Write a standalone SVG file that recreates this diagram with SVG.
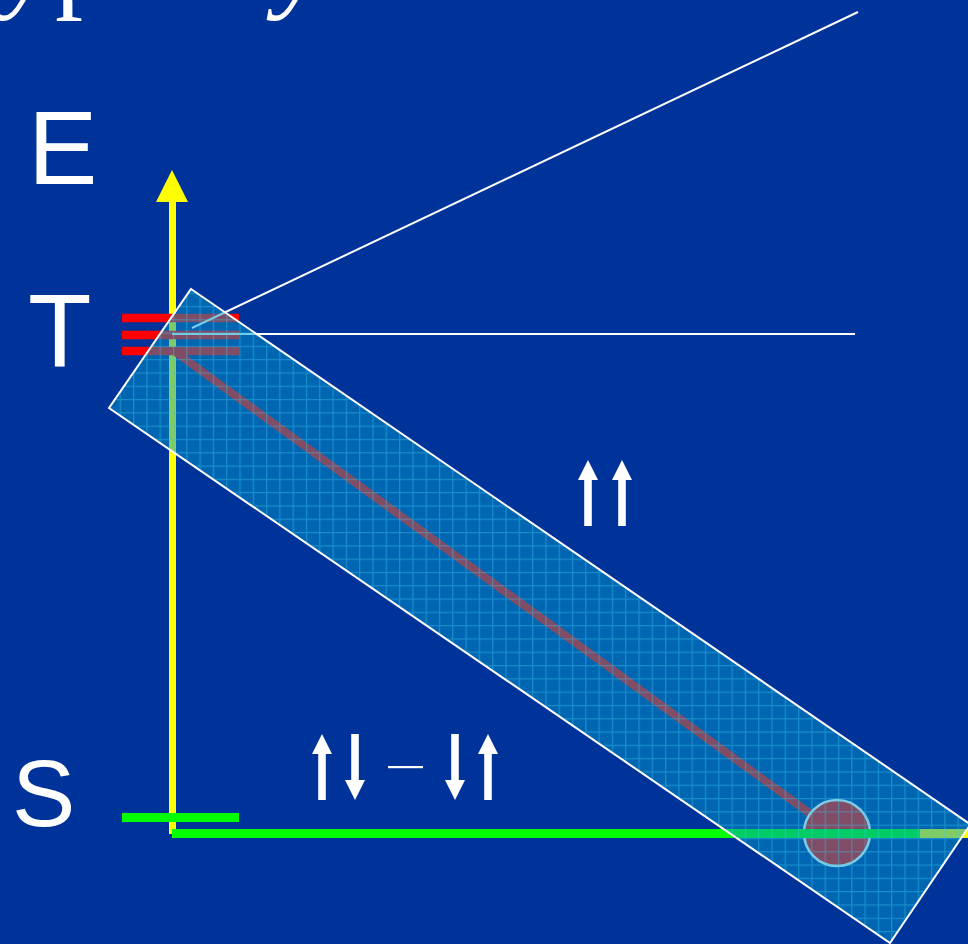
<svg xmlns="http://www.w3.org/2000/svg" width="968" height="944" viewBox="0 0 968 944">
<style>
.lbl{font-family:"Liberation Sans",Arial,sans-serif;fill:#ffffff}
.ttl{font-family:"Liberation Serif","Times New Roman",serif;font-style:italic;fill:#ffffff;font-size:112px}
.wl{stroke:#ffffff;stroke-width:2;fill:none}
.red{stroke:#ff0000;stroke-width:8.5;fill:none}
.grn{stroke:#00ff00;stroke-width:9;fill:none}
.arr{fill:#ffffff}
</style>
<defs>
<pattern id="grid" patternUnits="userSpaceOnUse" width="13.3" height="13.3">
<rect width="13.3" height="13.3" fill="#0099cc" fill-opacity="0.5"/>
<path d="M0,0.6 H13.3 M0.6,0 V13.3" stroke="#3cc8f0" stroke-opacity="0.4" stroke-width="1.2" fill="none"/>
</pattern>
<path id="up" d="M-10,20 L0,0 L10,20 H3.8 V66 H-3.8 V20 Z"/>
</defs>
<rect width="968" height="944" fill="#003399"/>
<g id="title">
<text class="ttl" y="-3"><tspan x="4">y</tspan><tspan x="55" font-style="normal">p</tspan><tspan x="276">y</tspan></text>
</g>
<g id="label-E"><text class="lbl" x="28" y="184" font-size="104">E</text></g>
<g id="label-T"><text class="lbl" x="28" y="367" font-size="104">T</text></g>
<g id="label-S"><text class="lbl" x="12" y="826" font-size="95">S</text></g>
<g id="axis-E">
<line x1="172.5" y1="200" x2="172.5" y2="834" stroke="#ffff00" stroke-width="7"/>
<polygon points="172,170 188,202 156,202" fill="#ffff00"/>
</g>
<g id="level-T">
<line class="red" x1="122" y1="318" x2="239" y2="318"/>
<line class="red" x1="122" y1="335" x2="239" y2="335"/>
<line class="red" x1="122" y1="351" x2="239" y2="351"/>
</g>
<g id="level-S">
<line class="grn" x1="122" y1="817.5" x2="239" y2="817.5"/>
</g>
<g id="connectors">
<line class="wl" x1="192" y1="328" x2="858" y2="12"/>
<line class="wl" x1="172" y1="334" x2="855" y2="334"/>
<line x1="174" y1="351" x2="837" y2="833" stroke="#ff0000" stroke-width="8"/>
</g>
<g id="state-circle">
<circle cx="837" cy="833" r="33" fill="#ff0000" stroke="#ffffff" stroke-width="2.5"/>
</g>
<g id="axis-S">
<line class="grn" x1="172" y1="833.5" x2="968" y2="833.5"/>
<line x1="920" y1="833.5" x2="968" y2="833.5" stroke="#ffff00" stroke-width="9"/>
</g>
<g id="band">
<polygon points="191,289 970.5,824.4 890,943 109,408" fill="url(#grid)" stroke="#ffffff" stroke-width="2"/>
</g>
<g id="spins-triplet" class="arr">
<use href="#up" x="588" y="460"/>
<use href="#up" x="622" y="460"/>
</g>
<g id="spins-singlet" class="arr">
<use href="#up" x="322" y="734"/>
<use href="#up" transform="translate(355,800) rotate(180)"/>
<rect x="388" y="766" width="35" height="2.2"/>
<use href="#up" transform="translate(455,800) rotate(180)"/>
<use href="#up" x="488" y="734"/>
</g>
</svg>
